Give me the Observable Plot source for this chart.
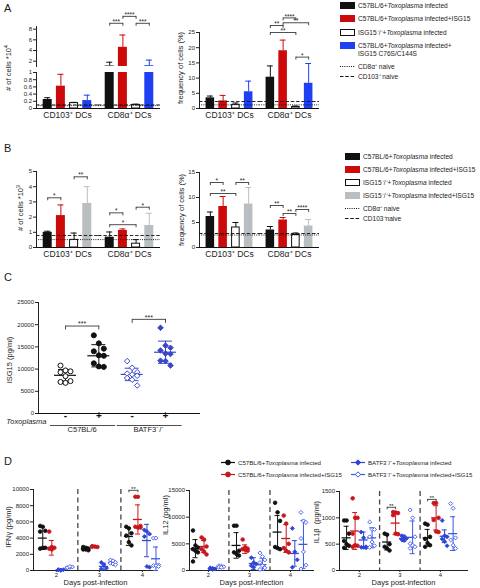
<!DOCTYPE html>
<html>
<head>
<meta charset="utf-8">
<script src="https://cdn.jsdelivr.net/npm/d3@7"></script>
<script src="https://cdn.jsdelivr.net/npm/@observablehq/plot@0.6"></script>
<style>
html,body{margin:0;padding:0;background:#fff;}
#fig{position:relative;width:480px;height:588px;overflow:hidden;font-family:"Liberation Sans",Arial,Helvetica,sans-serif;color:#1a1a1a;}
.letter{position:absolute;font-size:11px;line-height:1;}
.rot{position:absolute;white-space:nowrap;transform:translate(-50%,-50%) rotate(-90deg);line-height:1;color:#222;}
.rot sup{font-size:70%;}
.leg{position:absolute;display:flex;align-items:flex-start;font-size:6.6px;line-height:1.2;white-space:nowrap;color:#222;}
.leg.small{font-size:6.1px;}
.sw{flex:none;width:15px;height:7px;box-sizing:border-box;margin-right:3px;display:inline-block;}
.ln{flex:none;margin-right:3px;}
</style>
</head>
<body>
<div id="fig"></div>
<script>
// ================= DATA =================
// Panels A & B
const groups = ["CD103⁺ DCs", "CD8α⁺ DCs"];
const naiveLabels = ["CD8α⁺ naive", "CD103⁺ naive"]; // dotted, dashed

// Panel A
const condA = ["C57BL/6+Toxoplasma infected", "C57BL/6+Toxoplasma infected+ISG15", "ISG15⁻/⁻+Toxoplasma infected", "C57BL/6+Toxoplasma infected+ISG15 C76S/C144S"];
const colorA = ["#111111", "#cc0a0a", "#ffffff", "#1f3ff2"];
const aCountMeanCD103 = [0.25, 0.62, 0.15, 0.22];
const aCountErrCD103 = [0.30, 0.95, 0.17, 0.37];
const aCountMeanCD8 = [1.10, 4.60, 0.10, 1.15];
const aCountErrCD8 = [1.80, 6.90, 0.12, 2.20];
const aCountNaive = [0.08, 0.10];
const aCountSig = [["CD8α⁺ DCs", 0, 1, 9.1, "***"], ["CD8α⁺ DCs", 1, 2, 10.4, "****"], ["CD8α⁺ DCs", 2, 3, 9.1, "***"]];
const aFreqMeanCD103 = [3.5, 2.5, 1.2, 5.5];
const aFreqErrCD103 = [4.1, 4.3, 1.8, 9.0];
const aFreqMeanCD8 = [10.3, 19.0, 0.5, 8.3];
const aFreqErrCD8 = [14.0, 22.5, 0.8, 14.8];
const aFreqNaive = [1.2, 2.3];
const aFreqSig = [["CD8α⁺ DCs", 0, 1, 27.3, "**"], ["CD8α⁺ DCs", 1, 2, 29.8, "****"], ["CD8α⁺ DCs", 1, 3, 28.2, "**"], ["CD8α⁺ DCs", 0, 2, 25.0, "**"], ["CD8α⁺ DCs", 2, 3, 16.9, "*"]];

// Panel B
const condB = ["C57BL/6+Toxoplasma infected", "C57BL/6+Toxoplasma infected+ISG15", "ISG15⁻/⁻+Toxoplasma infected", "ISG15⁻/⁻+Toxoplasma infected+ISG15"];
const colorB = ["#111111", "#cc0a0a", "#ffffff", "#b9bec1"];
const bCountMeanCD103 = [1.0, 2.1, 0.5, 2.9];
const bCountErrCD103 = [1.07, 2.8, 0.95, 4.0];
const bCountMeanCD8 = [0.68, 1.12, 0.25, 1.45];
const bCountErrCD8 = [1.02, 1.22, 0.52, 2.25];
const bCountNaive = [0.52, 0.79];
const bCountSig = [["CD103⁺ DCs", 0, 1, 3.27, "*"], ["CD103⁺ DCs", 2, 3, 4.65, "**"], ["CD8α⁺ DCs", 0, 1, 2.28, "*"], ["CD8α⁺ DCs", 0, 2, 1.5, "*"], ["CD8α⁺ DCs", 2, 3, 2.65, "*"]];
const bFreqMeanCD103 = [6.2, 8.2, 4.0, 8.7];
const bFreqErrCD103 = [7.1, 10.2, 5.0, 12.0];
const bFreqMeanCD8 = [3.5, 5.5, 2.5, 4.3];
const bFreqErrCD8 = [4.2, 6.0, 2.9, 5.6];
const bFreqNaive = [2.5, 2.8];
const bFreqSig = [["CD103⁺ DCs", 0, 1, 13.0, "*"], ["CD103⁺ DCs", 2, 3, 13.0, "**"], ["CD103⁺ DCs", 0, 2, 10.8, "**"], ["CD8α⁺ DCs", 0, 1, 8.4, "**"], ["CD8α⁺ DCs", 2, 3, 7.6, "****"], ["CD8α⁺ DCs", 1, 2, 6.8, "**"]];

// Panel C (ISG15 pg/ml)
const cStrains = ["C57BL/6", "BATF3⁻/⁻"];
const cSigns = ["-", "+", "-", "+"];
const c57Neg = [10800, 9700, 9500, 9300, 8400, 7300, 7100, 6900];
const c57Pos = [17600, 15800, 14600, 14000, 13100, 13000, 11300, 10600, 10500];
const batfNeg = [11800, 10300, 9300, 9000, 8800, 8500, 8000, 7600, 6300];
const batfPos = [19300, 15300, 14800, 14200, 13500, 13400, 11900, 11800, 10800];
const cMean = [8600, 13000, 8800, 13800];
const cSD = [1300, 2500, 1400, 2500];
const cSig = [[0, 1, 19700, "***"], [2, 3, 21200, "***"]];

// Panel D
const days = [2, 3, 4];
const dSeries = ["C57BL/6+Toxoplasma infected", "C57BL/6+Toxoplasma infected+ISG15", "BATF3⁻/⁻+Toxoplasma infected", "BATF3⁻/⁻+Toxoplasma infected+ISG15"];
const ifngPts = [
  [[5500, 5400, 4900, 4800, 2800, 2800, 2700], [2900, 2800, 2700, 2600, 2600, 2500], [5400, 5200, 4600, 4300, 3500, 3100]],
  [[4800, 2900, 2800, 2700, 2600], [3000, 2950, 2900, 2950], [9100, 9100, 5500, 5400, 5300, 5300]],
  [[100, 50, 100, 80, 20], [1000, 700, 300, 200], [5000, 4800, 4500, 4200, 500, 400]],
  [[300, 400, 450, 350, 500], [1300, 1200, 1000, 900, 800, 700], [4000, 4000, 700, 600, 600, 500]]
];
const ifngMean = [[4000, 2700, 4200], [2800, 2950, 6300], [60, 500, 3700], [400, 1000, 1450]];
const ifngSD = [[1400, 200, 1100], [900, 60, 1800], [40, 400, 2000], [80, 250, 1450]];
const ifngSig = [[4, 0, 1, 9900, "**"]];

const il12Pts = [
  [[7500, 4700, 4300, 4000, 3700, 3400, 1700], [8400, 8400, 3700, 3400, 3100, 2800], [12700, 10900, 9300, 4400, 4200, 4000]],
  [[6200, 5800, 4500, 4000, 3500, 3000], [5800, 4300, 4100, 4000, 3900, 3700], [10300, 8800, 5000, 4200, 3700, 3400]],
  [[500, 400, 300, 300, 200], [2400, 1500, 1200, 900, 600], [7900, 3500, 2000, 600]],
  [[900, 800, 700, 600, 600], [3300, 2600, 2000, 1500, 900, 500, 200], [10900, 9300, 9000, 6000, 3500, 1000, 300]]
];
const il12Mean = [[4100, 4700, 7200], [4500, 4000, 6000], [350, 1300, 3200], [700, 1100, 4900]];
const il12SD = [[1700, 2400, 3100], [1100, 800, 2600], [120, 1100, 2400], [150, 1200, 4500]];

const il1bPts = [
  [[950, 950, 700, 560, 500, 470, 430], [700, 680, 500, 450, 420, 380], [890, 870, 640, 600, 520, 480, 450]],
  [[1370, 1000, 1000, 700, 480, 470, 450], [1110, 1100, 1090, 1050, 700, 690], [1280, 1280, 1000, 960, 740, 730]],
  [[730, 620, 450, 440, 440, 430], [660, 640, 610, 590, 570], [950, 660, 640, 600, 550, 470]],
  [[920, 780, 780, 640, 540, 470, 440], [1150, 1000, 640, 510, 480, 450, 420], [1270, 1180, 620, 580, 480, 420]]
];
const il1bMean = [[620, 540, 620], [750, 900, 1000], [580, 610, 650], [620, 630, 700]];
const il1bSD = [[220, 150, 160], [350, 220, 230], [150, 60, 120], [190, 310, 320]];
const il1bSig = [[3, 0, 1, 1200, "**"], [4, 0, 1, 1350, "**"]];

// ================= STYLES / HELPERS =================
const FONT = '"Liberation Sans", Arial, Helvetica, sans-serif';
const fig = document.getElementById("fig");
function put(node, left, top) { node.style.position = "absolute"; node.style.left = left + "px"; node.style.top = top + "px"; fig.appendChild(node); return node; }
function htmlAt(cls, html, left, top, style) { const d = document.createElement("div"); d.className = cls; d.innerHTML = html; if (style) Object.assign(d.style, style); return put(d, left, top); }
function baseOpts(o) {
  return {width: o.width, height: o.height, marginTop: o.mT, marginBottom: o.mB, marginLeft: o.mL, marginRight: o.mR,
    style: {fontFamily: FONT, fontSize: "6px", color: "#222", background: "transparent", overflow: "visible"}};
}
const fmt = s => s.replace("Toxoplasma", "<i>Toxoplasma</i>");

// ---------- bar panels (A, B) ----------
function barPanel(o) {
  const rows = [];
  o.means.forEach((arr, gi) => arr.forEach((m, ci) => rows.push({
    g: groups[gi], ci, mean: m, err: o.errs[gi][ci], fill: o.colors[ci],
    ec: o.colors[ci] === "#ffffff" ? "#111111" : o.colors[ci]})));
  const clip = !!o.clip;
  const ins = 2.1;
  const br = (o.sig || []).map(([g, a, b, y, t]) => ({g, a, b, y, t}));
  const ends = br.flatMap(d => [{g: d.g, x: d.a + 0.5, y: d.y}, {g: d.g, x: d.b + 0.5, y: d.y}]);
  const marks = [
    Plot.rectY(rows, {fx: "g", x1: "ci", x2: d => d.ci + 1, y1: 0, y2: "mean", fill: "fill", insetLeft: ins, insetRight: ins, clip}),
    Plot.rectY(rows.filter(d => d.fill === "#ffffff"), {fx: "g", x1: "ci", x2: d => d.ci + 1, y1: 0, y2: "mean", fill: "none", stroke: "#111", strokeWidth: 1, insetLeft: ins + 0.5, insetRight: ins + 0.5, clip}),
    Plot.ruleX(rows, {fx: "g", x: d => d.ci + 0.5, y1: "mean", y2: "err", stroke: "ec", strokeWidth: 1, clip}),
    Plot.ruleY(rows, {fx: "g", x1: d => d.ci + 0.27, x2: d => d.ci + 0.73, y: "err", stroke: "ec", strokeWidth: 1, clip})
  ];
  if (o.naive) {
    marks.push(Plot.ruleY([o.naive[0]], {stroke: "#111", strokeWidth: 0.9, strokeDasharray: "1,1.2"}));
    marks.push(Plot.ruleY([o.naive[1]], {stroke: "#111", strokeWidth: 0.9, strokeDasharray: "3.5,1.8"}));
  }
  if (o.baseline) marks.push(Plot.ruleY([0], {stroke: "#111", strokeWidth: 1}));
  if (br.length) marks.push(
    Plot.link(br, {fx: "g", x1: d => d.a + 0.5, x2: d => d.b + 0.5, y1: "y", y2: "y", stroke: "#222", strokeWidth: 0.8}),
    Plot.ruleX(ends, {fx: "g", x: "x", y1: "y", y2: "y", insetTop: 0, insetBottom: -3, stroke: "#222", strokeWidth: 0.8}),
    Plot.text(br, {fx: "g", x: d => (d.a + d.b) / 2 + 0.5, y: "y", text: "t", dy: -1.5, fontSize: 6.5, fill: "#222"})
  );
  if (o.labels) marks.push(Plot.text(groups, {fx: d => d, x: () => o.colors.length / 2, text: d => d, frameAnchor: "bottom", dy: 9, fontSize: 8.5, fill: "#222"}));
  const svg = Plot.plot({...baseOpts(o),
    fx: {domain: groups, padding: 0, axis: null, label: null},
    x: {domain: [-0.35, 4.35], axis: null},
    y: {domain: o.yDomain, ticks: o.yTicks, tickFormat: d => String(d), tickSize: 3, tickPadding: 1.5, line: true, label: null},
    color: {type: "identity"},
    marks});
  put(svg, o.left, o.top);
}

// Panel A
barPanel({left: 0, top: 5, width: 165, height: 61, mT: 21, mB: 0, mL: 35, mR: 5,
  yDomain: [1, 8.5], yTicks: [2, 4, 6, 8], means: [aCountMeanCD103, aCountMeanCD8], errs: [aCountErrCD103, aCountErrCD8],
  colors: colorA, sig: aCountSig, clip: true});
barPanel({left: 0, top: 68, width: 165, height: 55, mT: 4, mB: 15, mL: 35, mR: 5,
  yDomain: [0, 1], yTicks: [0, 0.2, 0.4, 0.6, 0.8, 1], means: [aCountMeanCD103, aCountMeanCD8], errs: [aCountErrCD103, aCountErrCD8],
  colors: colorA, naive: aCountNaive, baseline: true, labels: true, clip: true});
barPanel({left: 150, top: 5, width: 172, height: 118, mT: 27, mB: 15, mL: 49, mR: 3,
  yDomain: [0, 25], yTicks: [0, 5, 10, 15, 20, 25], means: [aFreqMeanCD103, aFreqMeanCD8], errs: [aFreqErrCD103, aFreqErrCD8],
  colors: colorA, naive: aFreqNaive, baseline: true, labels: true, sig: aFreqSig});

// Panel B
barPanel({left: 0, top: 160, width: 165, height: 102, mT: 11, mB: 15, mL: 35, mR: 5,
  yDomain: [0, 5], yTicks: [0, 1, 2, 3, 4, 5], means: [bCountMeanCD103, bCountMeanCD8], errs: [bCountErrCD103, bCountErrCD8],
  colors: colorB, naive: bCountNaive, baseline: true, labels: true, sig: bCountSig});
barPanel({left: 150, top: 160, width: 172, height: 102, mT: 12, mB: 15, mL: 49, mR: 3,
  yDomain: [0, 15], yTicks: [0, 5, 10, 15], means: [bFreqMeanCD103, bFreqMeanCD8], errs: [bFreqErrCD103, bFreqErrCD8],
  colors: colorB, naive: bFreqNaive, baseline: true, labels: true, sig: bFreqSig});

// ---------- Panel C ----------
(function () {
  const sets = [c57Neg, c57Pos, batfNeg, batfPos];
  const blue = "#3a46c9";
  const cStyle = [
    {symbol: "circle", fill: "#ffffff", stroke: "#111"},
    {symbol: "circle", fill: "#111", stroke: "#111"},
    {symbol: "diamond2", fill: "#ffffff", stroke: blue},
    {symbol: "diamond2", fill: blue, stroke: blue}
  ];
  const pts = sets.flatMap((vals, k) => vals.map((v, j) => ({k, x: k + 1 + ((j % 3) - 1) * 0.15, y: v})));
  const st = cMean.map((m, k) => ({x: k + 1, m, lo: m - cSD[k], hi: m + cSD[k], c: cStyle[k].stroke}));
  const br = cSig.map(([a, b, y, t]) => ({x1: a + 1, x2: b + 1, y, t}));
  const ends = br.flatMap(d => [{x: d.x1, y: d.y}, {x: d.x2, y: d.y}]);
  const o = {width: 210, height: 148, mT: 12, mB: 25, mL: 38, mR: 10};
  const svg = Plot.plot({...baseOpts(o),
    x: {domain: [0.19, 5.05], axis: null},
    y: {domain: [0, 25000], ticks: [0, 5000, 10000, 15000, 20000, 25000], tickFormat: d => String(d), tickSize: 3, tickPadding: 1.5, line: true, label: null},
    color: {type: "identity"},
    marks: [
      Plot.ruleY([0], {stroke: "#111", strokeWidth: 1}),
      Plot.ruleX(st, {x: "x", y1: "lo", y2: "hi", stroke: "c", strokeWidth: 1}),
      Plot.ruleY(st, {x1: "x", x2: "x", y: "hi", insetLeft: -7, insetRight: -7, stroke: "c", strokeWidth: 1}),
      Plot.ruleY(st, {x1: "x", x2: "x", y: "lo", insetLeft: -7, insetRight: -7, stroke: "c", strokeWidth: 1}),
      Plot.ruleY(st, {x1: "x", x2: "x", y: "m", insetLeft: -11, insetRight: -11, stroke: "c", strokeWidth: 1.2}),
      ...cStyle.map((s, k) => Plot.dot(pts.filter(p => p.k === k), {x: "x", y: "y", r: 2.5, strokeWidth: 1, symbol: s.symbol, fill: s.fill, stroke: s.stroke})),
      Plot.link(br, {x1: "x1", x2: "x2", y1: "y", y2: "y", stroke: "#222", strokeWidth: 0.8}),
      Plot.ruleX(ends, {x: "x", y1: "y", y2: "y", insetTop: 0, insetBottom: -4, stroke: "#222", strokeWidth: 0.8}),
      Plot.text(br, {x: d => (d.x1 + d.x2) / 2, y: "y", text: "t", dy: -2, fontSize: 7, fill: "#222"}),
      Plot.text(cSigns, {x: (d, i) => i + 1, text: d => d, frameAnchor: "bottom", dy: 5, fontSize: 10, fontWeight: "bold", fill: "#111"}),
      Plot.text(["Toxoplasma"], {text: d => d, frameAnchor: "bottom-left", textAnchor: "end", dx: 8, dy: 10, fontStyle: "italic", fontSize: 7.5, fill: "#222"}),
      Plot.ruleY(cStrains, {x1: (d, i) => 2 * i + 0.55, x2: (d, i) => 2 * i + 2.5, y: () => 0, dy: 12, stroke: "#222", strokeWidth: 0.8}),
      Plot.text(cStrains, {x: (d, i) => 2 * i + 1.5, text: d => d, frameAnchor: "bottom", dy: 18.5, fontSize: 7.5, fill: "#222"})
    ]});
  put(svg, 0, 290);
})();

// ---------- Panel D ----------
const dStyle = [
  {symbol: "circle", color: "#111111", fill: "#111111"},
  {symbol: "circle", color: "#c8161d", fill: "#c8161d"},
  {symbol: "diamond2", color: "#2f45d3", fill: "#2f45d3"},
  {symbol: "diamond2", color: "#3b57e6", fill: "#ffffff"}
];
function dPanel(o) {
  const pts = [], st = [];
  const off = si => (si - 1.5) * 0.21;
  o.pts.forEach((ser, si) => ser.forEach((vals, di) => {
    const x0 = days[di] + off(si);
    vals.forEach((v, j) => pts.push({si, x: x0 + ((j % 3) - 1) * 0.06, y: v}));
    const m = o.mean[si][di], s = o.sd[si][di];
    st.push({x: x0, m, lo: Math.max(0, m - s), hi: m + s, c: dStyle[si].color});
  }));
  const seps = d3.pairs(days, (a, b) => (a + b) / 2);
  const br = (o.sig || []).map(([day, a, b, y, t]) => ({x1: day + off(a), x2: day + off(b), y, t}));
  const ends = br.flatMap(d => [{x: d.x1, y: d.y}, {x: d.x2, y: d.y}]);
  const marks = [
    Plot.ruleX(seps, {stroke: "#444", strokeWidth: 1.3, strokeDasharray: "5,3.5"}),
    Plot.ruleX(st, {x: "x", y1: "lo", y2: "hi", stroke: "c", strokeWidth: 1}),
    Plot.ruleY(st, {x1: "x", x2: "x", y: "hi", insetLeft: -2.5, insetRight: -2.5, stroke: "c", strokeWidth: 1}),
    Plot.ruleY(st, {x1: "x", x2: "x", y: "lo", insetLeft: -2.5, insetRight: -2.5, stroke: "c", strokeWidth: 1}),
    Plot.ruleY(st, {x1: "x", x2: "x", y: "m", insetLeft: -4.5, insetRight: -4.5, stroke: "c", strokeWidth: 1.3}),
    ...dStyle.map((s, si) => Plot.dot(pts.filter(p => p.si === si), {x: "x", y: "y", r: 1.8, symbol: s.symbol, fill: s.fill, stroke: s.color, strokeWidth: 0.9})),
    Plot.text(["Days post-infection"], {text: d => d, frameAnchor: "bottom", dy: 14, fontSize: 7.5, fill: "#222"})
  ];
  if (br.length) marks.push(
    Plot.link(br, {x1: "x1", x2: "x2", y1: "y", y2: "y", stroke: "#222", strokeWidth: 0.8}),
    Plot.ruleX(ends, {x: "x", y1: "y", y2: "y", insetTop: 0, insetBottom: -2.5, stroke: "#222", strokeWidth: 0.8}),
    Plot.text(br, {x: d => (d.x1 + d.x2) / 2, y: "y", text: "t", dy: -1.5, fontSize: 6, fill: "#222"})
  );
  const svg = Plot.plot({...baseOpts(o),
    x: {domain: o.xDomain, ticks: days, tickFormat: d => String(d), tickSize: 2, tickPadding: 0.5, line: true, label: null},
    y: {domain: o.yDomain, ticks: o.yTicks, tickFormat: d => String(d), tickSize: 3, tickPadding: 1.5, line: true, label: null},
    color: {type: "identity"},
    marks});
  put(svg, o.left, o.top);
}
dPanel({left: 0, top: 478, width: 160, height: 108, mT: 11, mB: 16, mL: 33, mR: 3, xDomain: [1.47, 4.35],
  yDomain: [0, 10000], yTicks: [0, 2000, 4000, 6000, 8000, 10000], pts: ifngPts, mean: ifngMean, sd: ifngSD, sig: ifngSig});
dPanel({left: 155, top: 478, width: 160, height: 108, mT: 12, mB: 16, mL: 34, mR: 2, xDomain: [1.54, 4.56],
  yDomain: [0, 15000], yTicks: [0, 5000, 10000, 15000], pts: il12Pts, mean: il12Mean, sd: il12SD});
dPanel({left: 305, top: 478, width: 165, height: 108, mT: 13, mB: 16, mL: 34, mR: 3, xDomain: [1.51, 4.67],
  yDomain: [0, 1500], yTicks: [0, 500, 1000, 1500], pts: il1bPts, mean: il1bMean, sd: il1bSD, sig: il1bSig});

// ================= TEXT: letters, axis titles, legends =================
[["A", 4, 3], ["B", 4, 143], ["C", 4, 272], ["D", 4, 456]].forEach(([t, x, y]) => htmlAt("letter", t, x, y));

const rot = (html, cx, cy, size) => htmlAt("rot", html, cx, cy, {fontSize: size + "px"});
rot("# of cells *10<sup>4</sup>", 8, 68, 7.5);
rot("frequency of cells (%)", 181, 68, 7.5);
rot("# of cells *10<sup>3</sup>", 20, 208, 7.5);
rot("frequency of cells (%)", 182, 210, 7.5);
rot("ISG15 (pg/ml)", 10, 360, 7.5);
rot("IFNγ (pg/ml)", 9, 527, 7.5);
rot("IL12 (pg/ml)", 166, 515, 7.5);
rot("IL1β&nbsp;&nbsp;(pg/ml)", 317, 522, 7.5);

const boxSw = c => `<span class="sw" style="background:${c};${c === "#ffffff" ? "border:1px solid #111;" : ""}"></span>`;
const lineSw = dash => `<svg class="ln" width="15" height="7"><line x1="0" x2="15" y1="3.5" y2="3.5" stroke="#111" stroke-width="1" stroke-dasharray="${dash}"/></svg>`;
function legRow(left, top, sw, label, cls) { htmlAt("leg" + (cls ? " " + cls : ""), sw + `<span>${label}</span>`, left, top); }

// Legend A
const legATops = [2, 15, 29, 42];
condA.forEach((c, i) => legRow(340, legATops[i], boxSw(colorA[i]), fmt(c).replace("infected+ISG15 C76S", "infected+<br>ISG15 C76S")));
legRow(340, 63, lineSw("1,1.2"), naiveLabels[0]);
legRow(340, 73, lineSw("3.5,1.8"), naiveLabels[1]);

// Legend B
const legBTops = [153, 166, 179, 192];
condB.forEach((c, i) => legRow(345, legBTops[i], boxSw(colorB[i]), fmt(c)));
legRow(345, 205, lineSw("1,1.2"), naiveLabels[0]);
legRow(345, 215, lineSw("3.5,1.8"), naiveLabels[1].replace(" ", ""));

// Legend D
const dSw = s => {
  const p = d3.symbol(s.symbol === "circle" ? d3.symbolCircle : d3.symbolDiamond2, 18)();
  return `<svg class="ln" width="14" height="7"><line x1="0" x2="14" y1="3.5" y2="3.5" stroke="${s.color}" stroke-width="1.2"/><path transform="translate(7,3.5)" d="${p}" fill="${s.fill}" stroke="${s.color}" stroke-width="1"/></svg>`;
};
const legDPos = [[221, 459], [221, 471], [351, 459], [351, 471]];
dSeries.forEach((s, i) => legRow(legDPos[i][0], legDPos[i][1], dSw(dStyle[i]), fmt(s), "small"));
</script>
</body>
</html>
